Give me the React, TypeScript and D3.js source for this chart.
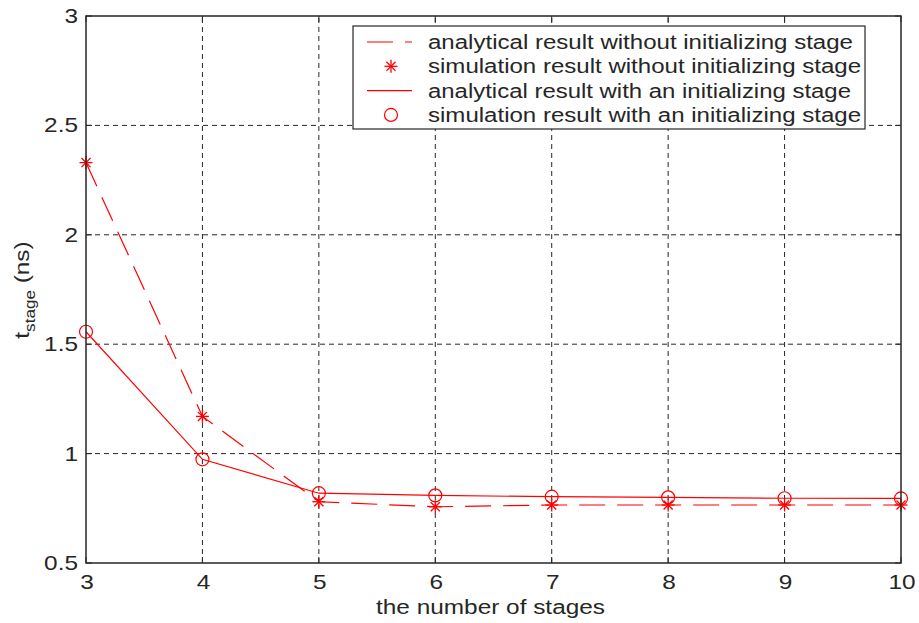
import React from 'react';
import * as d3 from 'd3';

const stages = [3, 4, 5, 6, 7, 8, 9, 10];
const withoutInit = [2.33, 1.17, 0.78, 0.757, 0.765, 0.765, 0.765, 0.765];
const withInit = [1.557, 0.974, 0.819, 0.809, 0.803, 0.8, 0.796, 0.795];
const xTicks = [3, 4, 5, 6, 7, 8, 9, 10];
const yTicks = [0.5, 1, 1.5, 2, 2.5, 3];
const legendItems = [
  'analytical result without initializing stage',
  'simulation result without initializing stage',
  'analytical result with an initializing stage',
  'simulation result with an initializing stage',
];
const legendWidths = [425, 433, 423, 433];

const W = 919, H = 623;
const m = { l: 86, r: 18, t: 16, b: 60 };
const RED = '#ff0000';
const INK = '#262626';
const FONT = 'Liberation Sans, Arial, sans-serif';
const SX = 1.22; // horizontal stretch of the text, like the original render

function Star({ x, y }: { x: number; y: number }) {
  const r = 6.5;
  const d = r * 0.7;
  return (
    <g stroke={RED} strokeWidth={1.3}>
      <line x1={x - r} y1={y} x2={x + r} y2={y} />
      <line x1={x} y1={y - r} x2={x} y2={y + r} />
      <line x1={x - d} y1={y - d} x2={x + d} y2={y + d} />
      <line x1={x - d} y1={y + d} x2={x + d} y2={y - d} />
    </g>
  );
}

function Circ({ x, y }: { x: number; y: number }) {
  return <circle cx={x} cy={y} r={6.5} fill="none" stroke={RED} strokeWidth={1.2} />;
}

export default function App() {
  const x = d3.scaleLinear().domain([3, 10]).range([m.l, W - m.r]);
  const y = d3.scaleLinear().domain([0.5, 3]).range([H - m.b, m.t]);
  const line = d3.line<number>().x((_, i) => x(stages[i])).y(d => y(d));
  const x0 = x.range()[0], x1 = x.range()[1];
  const y0 = y.range()[0], y1 = y.range()[1];

  const lg = { x: 353, y: 26, w: 512, h: 103, row: 24.3 };

  return (
    <svg width={W} height={H} style={{ position: 'absolute', left: 0, top: 0, background: '#fff' }} fontFamily={FONT}>
      <rect x={0} y={0} width={W} height={H} fill="#fff" />
      {/* grid */}
      <g stroke={INK} strokeWidth={1} strokeDasharray="5 4">
        {xTicks.slice(1, -1).map(t => (
          <line key={'gx' + t} x1={x(t)} x2={x(t)} y1={y0} y2={y1} />
        ))}
        {yTicks.slice(1, -1).map(t => (
          <line key={'gy' + t} x1={x0} x2={x1} y1={y(t)} y2={y(t)} />
        ))}
      </g>
      {/* ticks */}
      <g stroke={INK} strokeWidth={1}>
        {xTicks.map(t => (
          <g key={'tx' + t}>
            <line x1={x(t)} x2={x(t)} y1={y0} y2={y0 - 6} />
            <line x1={x(t)} x2={x(t)} y1={y1} y2={y1 + 6} />
          </g>
        ))}
        {yTicks.map(t => (
          <g key={'ty' + t}>
            <line x1={x0} x2={x0 + 6} y1={y(t)} y2={y(t)} />
            <line x1={x1} x2={x1 - 6} y1={y(t)} y2={y(t)} />
          </g>
        ))}
      </g>
      {/* series */}
      <path d={line(withoutInit) || ''} fill="none" stroke={RED} strokeWidth={1.2} strokeDasharray="26 12" />
      <path d={line(withInit) || ''} fill="none" stroke={RED} strokeWidth={1.2} />
      {withoutInit.map((v, i) => <Star key={'s' + i} x={x(stages[i])} y={y(v)} />)}
      {withInit.map((v, i) => <Circ key={'c' + i} x={x(stages[i])} y={y(v)} />)}
      {/* frame */}
      <rect x={x0} y={y1} width={x1 - x0} height={y0 - y1} fill="none" stroke={INK} strokeWidth={1.5} />
      {/* tick labels */}
      <g fill={INK} fontSize={20}>
        {xTicks.map(t => (
          <text key={'lx' + t} transform={`translate(${x(t) + 1},${y0 + 26}) scale(${SX},1)`} textAnchor="middle">{t}</text>
        ))}
        {yTicks.map(t => (
          <text key={'ly' + t} transform={`translate(${x0 - 8},${y(t) + 7}) scale(${SX},1)`} textAnchor="end">{t}</text>
        ))}
      </g>
      <text x={376} y={614} textLength={229} lengthAdjust="spacingAndGlyphs" fill={INK} fontSize={19.5}>the number of stages</text>
      <text transform={`translate(29,290) rotate(-90) scale(${SX},1)`} textAnchor="middle" fill={INK} fontSize={20}>
        t<tspan fontSize={14} dy={6}>stage</tspan><tspan dy={-6}> (ns)</tspan>
      </text>
      {/* legend */}
      <rect x={lg.x} y={lg.y} width={lg.w} height={lg.h} fill="#fff" stroke={INK} strokeWidth={1.2} />
      {legendItems.map((s, i) => {
        const cy = lg.y + 16 + i * lg.row;
        return (
          <g key={'lg' + i}>
            {i === 0 && <line x1={367} x2={412} y1={cy} y2={cy} stroke={RED} strokeWidth={1.2} strokeDasharray="26 12" />}
            {i === 1 && <Star x={391} y={cy} />}
            {i === 2 && <line x1={367} x2={412} y1={cy} y2={cy} stroke={RED} strokeWidth={1.2} />}
            {i === 3 && <Circ x={391} y={cy} />}
            <text x={428} y={cy + 7} fill={INK} fontSize={19.5} textLength={legendWidths[i]} lengthAdjust="spacingAndGlyphs">{s}</text>
          </g>
        );
      })}
    </svg>
  );
}
